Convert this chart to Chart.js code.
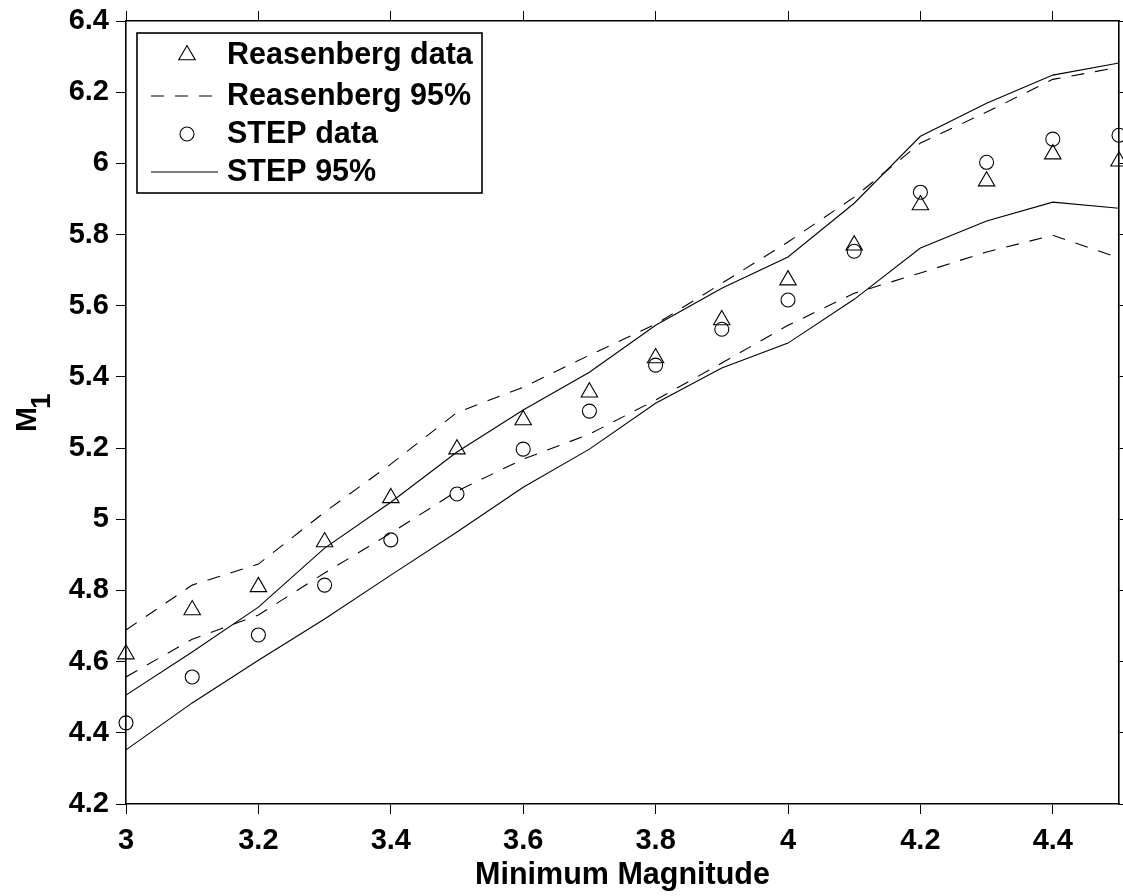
<!DOCTYPE html>
<html>
<head>
<meta charset="utf-8">
<script src="https://cdn.jsdelivr.net/npm/chart.js@4.4.1/dist/chart.umd.min.js"></script>
<style>
  body { margin: 0; background: #fff; }
</style>
</head>
<body>
<canvas id="myChart" width="1123" height="896"></canvas>
<script>
// minimum magnitude on the x axis
var magnitudes = [3.0, 3.1, 3.2, 3.3, 3.4, 3.5, 3.6, 3.7, 3.8, 3.9, 4.0, 4.1, 4.2, 4.3, 4.4, 4.5];

var reasenbergData = [4.621, 4.745, 4.81, 4.936, 5.06, 5.197, 5.279, 5.357, 5.453, 5.56, 5.672, 5.77, 5.883, 5.95, 6.026, 6.006];
var reasenbergUpper = [4.689, 4.815, 4.874, 5.02, 5.155, 5.30, 5.371, 5.461, 5.548, 5.663, 5.779, 5.905, 6.057, 6.144, 6.236, 6.27];
var reasenbergLower = [4.557, 4.663, 4.731, 4.849, 4.961, 5.079, 5.169, 5.239, 5.335, 5.439, 5.545, 5.635, 5.692, 5.751, 5.798, 5.734];

var stepData = [4.428, 4.557, 4.675, 4.815, 4.942, 5.071, 5.197, 5.304, 5.433, 5.534, 5.616, 5.753, 5.919, 6.003, 6.068, 6.079];
var stepUpper = [4.506, 4.627, 4.753, 4.919, 5.048, 5.189, 5.307, 5.413, 5.545, 5.649, 5.737, 5.888, 6.076, 6.169, 6.248, 6.282];
var stepLower = [4.352, 4.484, 4.604, 4.72, 4.843, 4.964, 5.09, 5.197, 5.326, 5.425, 5.495, 5.618, 5.762, 5.838, 5.891, 5.874];

var xTicks = [3, 3.2, 3.4, 3.6, 3.8, 4, 4.2, 4.4];
var yTicks = [4.2, 4.4, 4.6, 4.8, 5, 5.2, 5.4, 5.6, 5.8, 6, 6.2, 6.4];

var xTitle = 'Minimum Magnitude';
var yTitle = 'M';
var yTitleSub = '1';

function pts(values) {
    return magnitudes.map(function(m, i) { return { x: m, y: values[i] }; });
}

var FONT = 'Arial, "Liberation Sans", sans-serif';

function lineSet(label, values, dash, inLegend) {
    return {
        label: label,
        data: pts(values),
        showLine: true,
        borderColor: '#000',
        borderWidth: 1.1,
        borderDash: dash,
        pointRadius: 0,
        fill: false,
        inLegend: inLegend
    };
}

function markerSet(label, values, style, radius) {
    return {
        label: label,
        data: pts(values),
        showLine: false,
        pointStyle: style,
        pointRadius: radius,
        pointBorderColor: '#000',
        pointBackgroundColor: 'rgba(0,0,0,0)',
        pointBorderWidth: 1.1,
        clip: false,
        inLegend: true
    };
}

var DASH = [13, 11];

// legend drawn as a box inside the plot, like the original figure
var legendBox = {
    id: 'legendBox',
    afterDraw: function(chart) {
        var ctx = chart.ctx;
        var items = chart.data.datasets.filter(function(d) { return d.inLegend; });
        var left = 137, top = 33, w = 345, h = 160;
        var rows = [55, 96, 134, 172];
        ctx.save();
        ctx.fillStyle = '#fff';
        ctx.fillRect(left, top, w, h);
        ctx.strokeStyle = '#000';
        ctx.lineWidth = 1.6;
        ctx.strokeRect(left, top, w, h);
        items.forEach(function(d, i) {
            var y = rows[i];
            ctx.strokeStyle = '#000';
            ctx.lineWidth = 1.1;
            if (d.showLine) {
                ctx.setLineDash(d.borderDash || []);
                ctx.beginPath();
                ctx.moveTo(151, y);
                ctx.lineTo(218, y);
                ctx.stroke();
                ctx.setLineDash([]);
            } else if (d.pointStyle === 'triangle') {
                var r = d.pointRadius;
                ctx.beginPath();
                ctx.moveTo(187, y - r);
                ctx.lineTo(187 + r * Math.sin(2 * Math.PI / 3), y + r / 2);
                ctx.lineTo(187 - r * Math.sin(2 * Math.PI / 3), y + r / 2);
                ctx.closePath();
                ctx.stroke();
            } else {
                ctx.beginPath();
                ctx.arc(187, y, d.pointRadius, 0, 2 * Math.PI);
                ctx.stroke();
            }
            ctx.fillStyle = '#000';
            ctx.font = 'bold 30.5px ' + FONT;
            ctx.textBaseline = 'middle';
            ctx.textAlign = 'left';
            ctx.fillText(d.label, 227, y + 1);
        });
        ctx.restore();

        // y axis title with subscript
        ctx.save();
        ctx.translate(36, 432);
        ctx.rotate(-Math.PI / 2);
        ctx.fillStyle = '#000';
        ctx.textBaseline = 'alphabetic';
        ctx.font = 'bold 30px ' + FONT;
        ctx.fillText(yTitle, 0, 0);
        ctx.font = 'bold 28px ' + FONT;
        ctx.fillText(yTitleSub, 23, 14);
        ctx.restore();
    }
};

var axisBase = {
    type: 'linear',
    border: { display: true, color: '#000', width: 1.6 },
    grid: { drawOnChartArea: false, drawTicks: true, tickLength: 10, color: '#000', lineWidth: 1 }
};

function fromTicks(list) {
    return function(scale) {
        scale.ticks = list.map(function(v) { return { value: v }; });
    };
}

function fixSize(prop, size) {
    return function(scale) {
        scale[prop] = size;
        scale.paddingTop = 0;
        scale.paddingBottom = 0;
        scale.paddingLeft = 0;
        scale.paddingRight = 0;
    };
}

function label(v) {
    return String(Math.round(v * 10) / 10);
}

var ctx = document.getElementById('myChart').getContext('2d');
var chart = new Chart(ctx, {
    type: 'scatter',
    data: {
        datasets: [
            markerSet('Reasenberg data', reasenbergData, 'triangle', 9.5),
            lineSet('Reasenberg 95%', reasenbergUpper, DASH, true),
            lineSet('Reasenberg 95% lower', reasenbergLower, DASH, false),
            markerSet('STEP data', stepData, 'circle', 7),
            lineSet('STEP 95%', stepUpper, [], true),
            lineSet('STEP 95% lower', stepLower, [], false)
        ]
    },
    plugins: [legendBox],
    options: {
        responsive: false,
        animation: false,
        devicePixelRatio: 1,
        layout: { padding: 0, autoPadding: false },
        plugins: { legend: { display: false }, tooltip: { enabled: false } },
        scales: {
            x: Object.assign({}, axisBase, {
                position: 'bottom',
                min: 3, max: 4.5,
                afterBuildTicks: fromTicks(xTicks),
                afterFit: fixSize('height', 92),
                ticks: { color: '#000', padding: 10, maxRotation: 0, callback: label, font: { family: FONT, size: 29, weight: 'bold' } },
                title: { display: true, text: xTitle, color: '#000', padding: { top: 0, bottom: 2 }, font: { family: FONT, size: 30.5, weight: 'bold' } }
            }),
            y: Object.assign({}, axisBase, {
                position: 'left',
                min: 4.2, max: 6.4,
                afterBuildTicks: fromTicks(yTicks),
                afterFit: fixSize('width', 126),
                ticks: { color: '#000', padding: 7, callback: label, font: { family: FONT, size: 29, weight: 'bold' } }
            }),
            x2: Object.assign({}, axisBase, {
                position: 'top',
                min: 3, max: 4.5,
                afterBuildTicks: fromTicks(xTicks),
                afterFit: fixSize('height', 21),
                ticks: { display: false }
            }),
            y2: Object.assign({}, axisBase, {
                position: 'right',
                min: 4.2, max: 6.4,
                afterBuildTicks: fromTicks(yTicks),
                afterFit: fixSize('width', 4),
                grid: { drawOnChartArea: false, drawTicks: true, tickLength: 4, color: '#000', lineWidth: 1 },
                ticks: { display: false }
            })
        }
    }
});
</script>
</body>
</html>
